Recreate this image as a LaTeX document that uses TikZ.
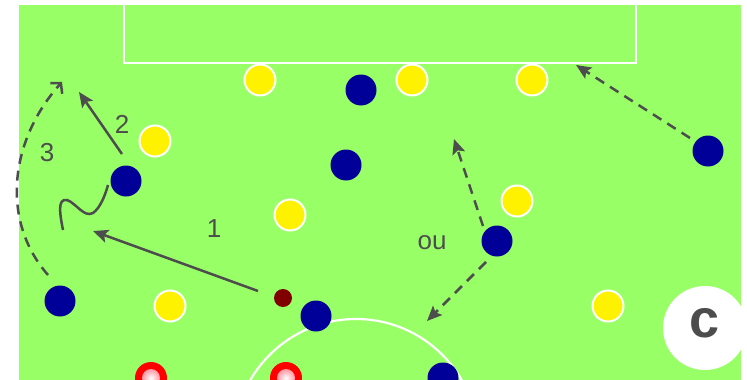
\documentclass[tikz,border=0pt]{standalone}
\usepackage{fontspec}
\setmainfont{Liberation Sans}
\usetikzlibrary{arrows.meta}
\definecolor{pitch}{RGB}{153,255,102}
\definecolor{team}{RGB}{0,0,153}
\definecolor{ink}{RGB}{77,77,77}
\definecolor{ballc}{RGB}{128,0,0}
\definecolor{pinkc}{RGB}{255,150,160}
\tikzset{
  yel/.style={circle,fill=yellow,draw=white,line width=2pt,minimum size=31pt,inner sep=0pt},
  blu/.style={circle,fill=team,minimum size=31pt,inner sep=0pt},
  redp/.style={circle,fill=red,minimum size=32pt,inner sep=0pt},
  ballst/.style={circle,fill=ballc,minimum size=18pt,inner sep=0pt},
  mv/.style={ink,line width=2.5pt,-{Stealth[length=15pt,width=13pt,inset=3pt]}},
  run/.style={mv,dash pattern=on 10pt off 7pt},
  lbl/.style={ink,font=\fontsize{26}{26}\selectfont,inner sep=0pt},
}
\begin{document}
\begin{tikzpicture}[x=1pt,y=-1pt]
\useasboundingbox (0,0) rectangle (747,380);
\fill[white] (0,0) rectangle (747,380);
\begin{scope}
\clip (19,5) rectangle (741,380);
\fill[pitch] (19,5) rectangle (741,380);
% penalty box
\draw[white,line width=2.5pt] (124,0) -- (124,63) -- (636,63) -- (636,0);
% centre circle
\draw[white,line width=2.2pt] (356,441) circle[radius=122];
% players
\node[yel] (y1) at (260,80) {};
\node[yel] (y2) at (412,80) {};
\node[yel] (y3) at (532,80) {};
\node[yel] (y4) at (155,141) {};
\node[yel] (y5) at (290,215) {};
\node[yel] (y6) at (517,201) {};
\node[yel] (y7) at (170,306) {};
\node[yel] (y8) at (608,306) {};
\node[blu] (b1) at (361,90) {};
\node[blu] (b2) at (346,165) {};
\node[blu] (b3) at (126,181) {};
\node[blu] (b4) at (497,241) {};
\node[blu] (b5) at (708,151) {};
\node[blu] (b6) at (60,301) {};
\node[blu] (b7) at (316,316) {};
\node[blu] (b8) at (443,378) {};
\node[redp] (r1) at (151,378) {};
\shade[inner color=white,outer color=pinkc] (151,378) circle[radius=9];
\node[redp] (r2) at (286,378) {};
\shade[inner color=white,outer color=pinkc] (286,378) circle[radius=9];
\node[ballst] (ball) at (283,298) {};
% coach marker
\fill[white] (705,328) circle[radius=42];
\node[ink,font=\fontsize{54}{54}\selectfont\bfseries,inner sep=0pt] (c) at (705,323) {c};
\end{scope}
% movement coordinates
\coordinate (a1s) at (258,291);
\coordinate (a1e) at (93,231);
\coordinate (a2s) at (122,154);
\coordinate (a2e) at (79,92);
\coordinate (a3s) at (48,275);
\coordinate (a3e) at (62,82);
\coordinate (a4s) at (483,226);
\coordinate (a4e) at (454,139);
\coordinate (a5s) at (486,262);
\coordinate (a5e) at (427,321);
\coordinate (a6s) at (690,138);
\coordinate (a6e) at (576,65);
\draw[mv] (a1s) -- (a1e);
\draw[mv] (a2s) -- (a2e);
\draw[ink,line width=2.5pt,dash pattern=on 10pt off 7pt,-{Straight Barb[length=7pt,width=16pt]}] (a3s) .. controls (0,220) and (10,140) .. (a3e);
\draw[run] (a4s) -- (a4e);
\draw[run] (a5s) -- (a5e);
\draw[run] (a6s) -- (a6e);
% dribble
\draw[ink,line width=2.5pt] (63,230) .. controls (60,215) and (57,198) .. (67,200) .. controls (76,203) and (84,218) .. (93,213) .. controls (100,208) and (105,196) .. (108,185);
% labels
\node[lbl] (l1) at (214,229) {1};
\node[lbl] (l2) at (122,124) {2};
\node[lbl] (l3) at (47,153) {3};
\node[lbl] (lou) at (432,243) {ou};
\end{tikzpicture}
\end{document}
